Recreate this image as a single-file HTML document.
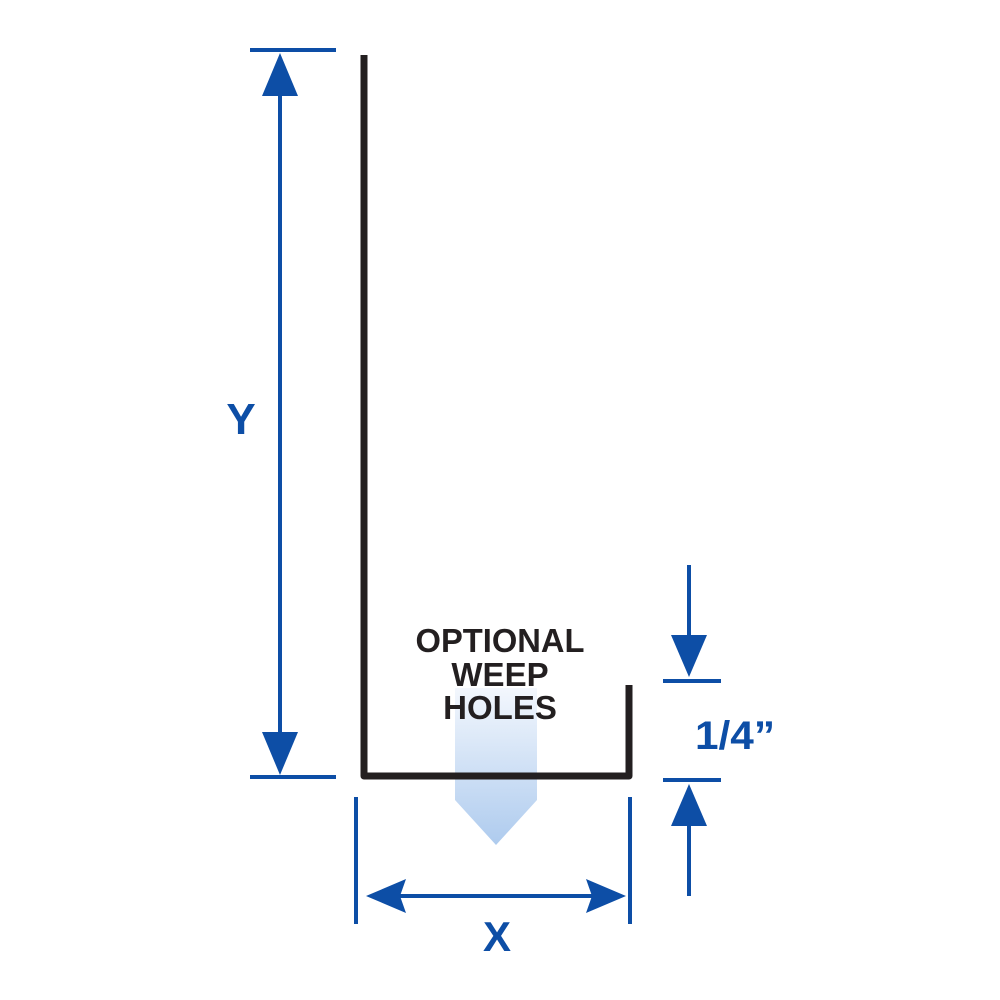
<!DOCTYPE html>
<html><head><style>
html,body{margin:0;padding:0;background:#fff;}
svg{display:block;}
</style></head><body>
<svg width="1000" height="1000" viewBox="0 0 1000 1000" xmlns="http://www.w3.org/2000/svg">
<defs>
<linearGradient id="g" x1="0" y1="0" x2="0" y2="1">
<stop offset="0" stop-color="#f3f7fd"/>
<stop offset="1" stop-color="#aecbee"/>
</linearGradient>
</defs>
<polygon points="455,688 537,688 537,800 496,845 455,800" fill="url(#g)"/>
<polyline points="364,55 364,776 629,776 629,685" fill="none" stroke="#231f20" stroke-width="7" stroke-linejoin="round"/>
<g fill="#0d4ea6" stroke="#0d4ea6">
<line x1="250" y1="50" x2="336" y2="50" stroke-width="4"/>
<line x1="250" y1="777" x2="336" y2="777" stroke-width="4"/>
<line x1="280" y1="80" x2="280" y2="750" stroke-width="4"/>
<polygon points="280,53 262,96 298,96" stroke="none"/>
<polygon points="280,775 262,732 298,732" stroke="none"/>
<line x1="356" y1="797" x2="356" y2="924" stroke-width="4"/>
<line x1="630" y1="797" x2="630" y2="924" stroke-width="4"/>
<line x1="390" y1="896" x2="600" y2="896" stroke-width="4"/>
<polygon points="366,896 406,879 400,896 406,913" stroke="none"/>
<polygon points="626,896 586,879 592,896 586,913" stroke="none"/>
<line x1="663" y1="681" x2="721" y2="681" stroke-width="4"/>
<line x1="663" y1="780" x2="721" y2="780" stroke-width="4"/>
<line x1="689" y1="565" x2="689" y2="650" stroke-width="4"/>
<polygon points="689,677 671,635 707,635" stroke="none"/>
<line x1="689" y1="810" x2="689" y2="896" stroke-width="4"/>
<polygon points="689,784 671,826 707,826" stroke="none"/>
</g>
<g font-family="Liberation Sans, sans-serif" font-weight="bold">
<text x="241" y="434" font-size="44" fill="#0d4ea6" text-anchor="middle">Y</text>
<text x="497" y="951" font-size="42" fill="#0d4ea6" text-anchor="middle">X</text>
<text x="735" y="749" font-size="40" fill="#0d4ea6" text-anchor="middle" textLength="80" lengthAdjust="spacingAndGlyphs">1/4”</text>
<text x="500" y="652" font-size="33" fill="#231f20" text-anchor="middle" textLength="169" lengthAdjust="spacingAndGlyphs">OPTIONAL</text>
<text x="500" y="686" font-size="33" fill="#231f20" text-anchor="middle">WEEP</text>
<text x="500" y="719" font-size="33" fill="#231f20" text-anchor="middle">HOLES</text>
</g>
</svg>
</body></html>
